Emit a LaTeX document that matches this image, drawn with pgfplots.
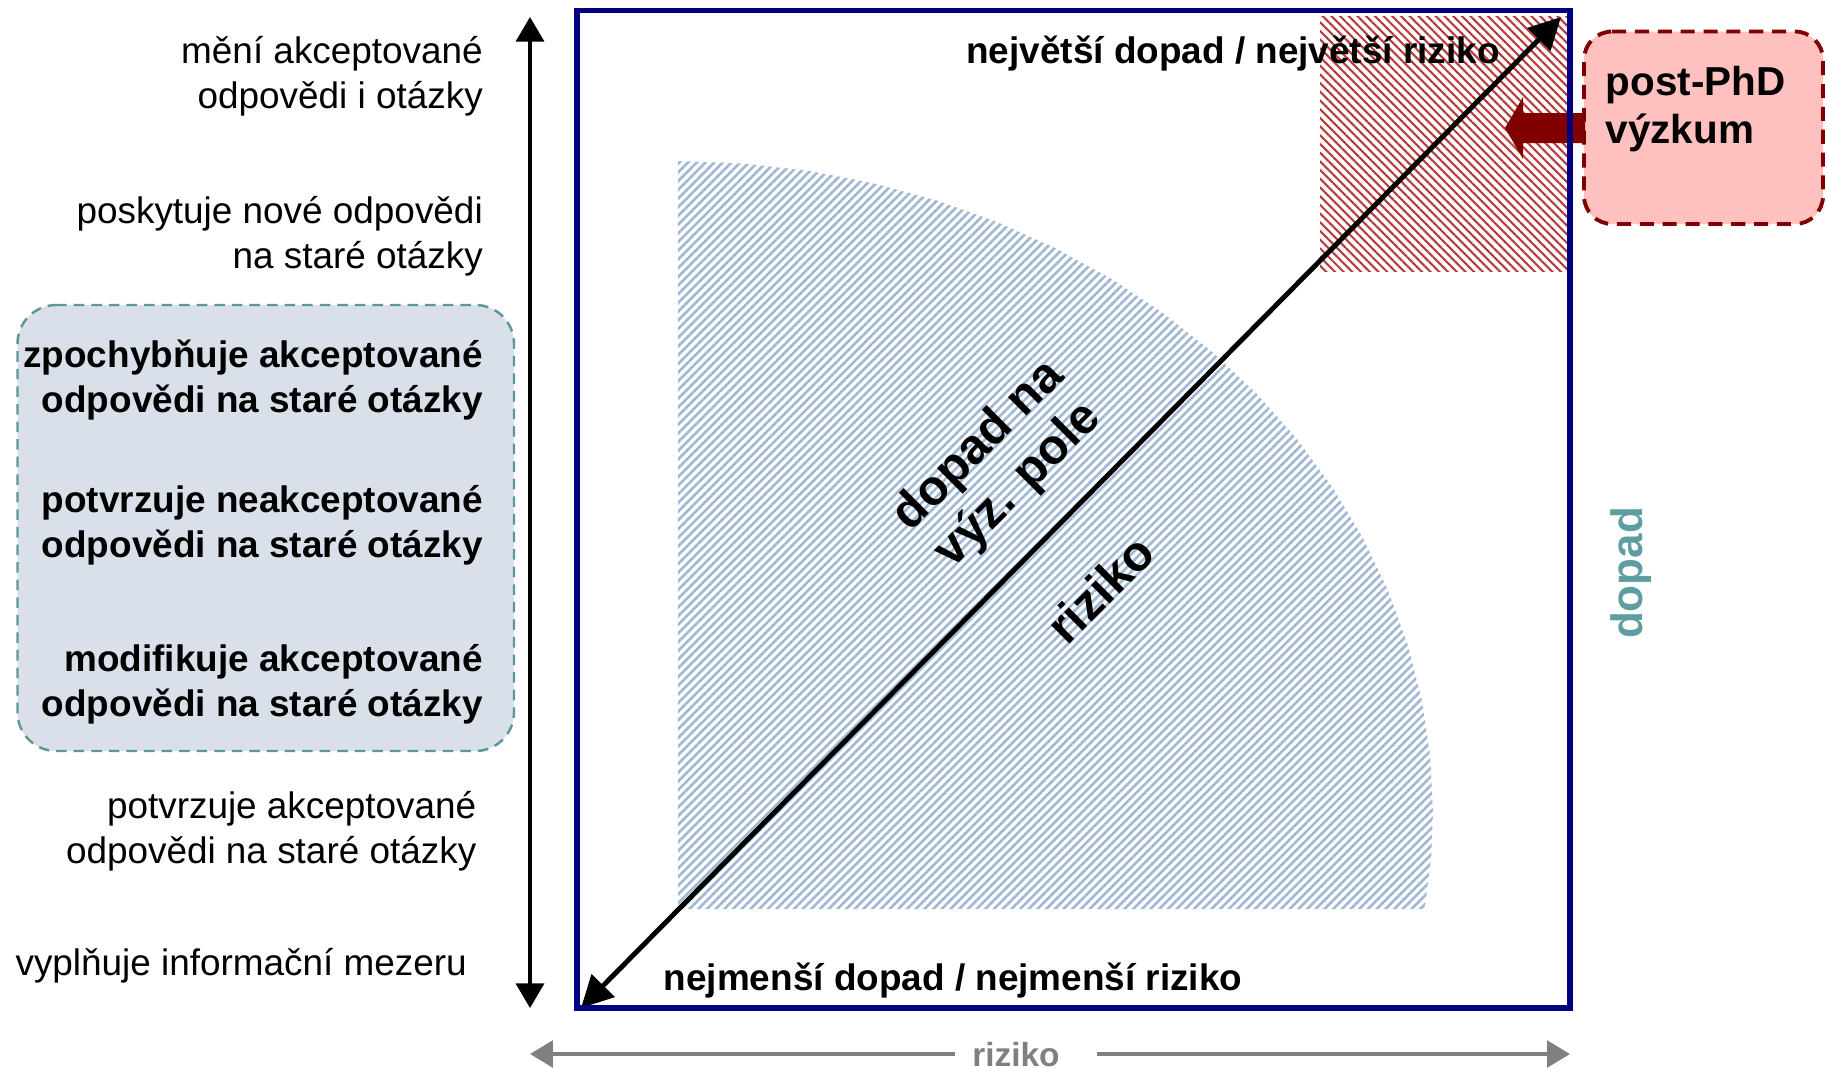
\documentclass[border=0pt]{standalone}
\usepackage{pgfplots}
\pgfplotsset{compat=1.18}
\usepackage{fontspec}
\setmainfont{Liberation Sans}
\usetikzlibrary{arrows.meta,patterns.meta}
\definecolor{navybox}{RGB}{0,0,128}
\definecolor{hatchblue}{RGB}{160,184,212}
\definecolor{hatchred}{RGB}{185,60,60}
\definecolor{darkred}{RGB}{128,0,0}
\definecolor{pinkfill}{RGB}{255,192,192}
\definecolor{slatefill}{RGB}{217,224,234}
\definecolor{tealbox}{RGB}{95,150,150}
\definecolor{tealc}{RGB}{95,158,160}
\definecolor{grayarrow}{RGB}{128,128,128}
\newcommand\nf{\fontsize{10.5}{12.8}\selectfont}
\begin{document}
\begin{tikzpicture}
\begin{axis}[width=18.27cm,height=10.68cm,scale only axis,
  xmin=0,xmax=1827,ymin=0,ymax=1068,y dir=reverse,
  axis lines=none,clip=false,no markers]
\addplot[draw=none] coordinates {(0,0) (1827,1068)};
% blue quarter area
\addplot[draw=none, pattern={Lines[angle=45,distance=1.75pt,line width=0.75pt]}, pattern color=hatchblue]
 coordinates {(678,909) (1424.5,909) (1431.2,857.4) (1433,812) (1430.1,755.3) (1421.5,699.0) (1407.3,643.5)
 (1387.5,589.3) (1362.3,536.9) (1331.9,486.5) (1296.5,438.6) (1256.4,393.5) (1211.9,351.7) (1163.3,313.3)
 (1111.1,278.7) (1055.5,248.2) (997.1,222.0) (936.2,200.3) (873.4,183.2) (809.1,170.9) (743.8,163.5) (678,161)} -- cycle;
% red square
\addplot[draw=none, pattern={Lines[angle=-45,distance=1.75pt,line width=0.6pt]}, pattern color=hatchred]
 coordinates {(1320,16) (1567,16) (1567,271) (1320,271)} -- cycle;
% left box
\addplot[fill=slatefill, draw=tealbox, dash pattern=on 3pt off 2pt, line width=0.7pt, rounded corners=11pt]
 coordinates {(17.5,305) (514,305) (514,751) (17.5,751)} -- cycle;
% pink box
\addplot[fill=pinkfill, draw=darkred, dash pattern=on 4pt off 2.5pt, line width=1.1pt, rounded corners=8pt]
 coordinates {(1584,31.5) (1823,31.5) (1823,224) (1584,224)} -- cycle;
% dark red arrow
\addplot[fill=darkred, draw=none]
 coordinates {(1585,113) (1523,113) (1523,97) (1505,128) (1523,159) (1523,143) (1585,143)} -- cycle;
% diagonal arrow
\addplot[black, line width=1.4pt, {Triangle[width=9pt,length=9pt]}-{Triangle[width=9pt,length=9pt]}]
 coordinates {(581,1008) (1561,17)};
% vertical arrow
\addplot[black, line width=0.9pt, {Triangle[width=8pt,length=7pt]}-{Triangle[width=8pt,length=7pt]}]
 coordinates {(530,17) (530,1008)};
% gray arrow
\addplot[grayarrow, line width=1.2pt, {Triangle[width=7.5pt,length=6.5pt]}-]
 coordinates {(530,1054) (955,1054)};
\addplot[grayarrow, line width=1.2pt, -{Triangle[width=7.5pt,length=6.5pt]}]
 coordinates {(1097,1054) (1570,1054)};
% navy box
\addplot[navybox, line width=1.7pt]
 coordinates {(577,10.5) (1570,10.5) (1570,1008) (577,1008)} -- cycle;
% texts
\node[text=grayarrow, font=\bfseries\fontsize{9.5}{11}\selectfont, inner sep=0] at (axis cs:1016,1055) {riziko};
\node[anchor=east, align=right, font=\nf, inner sep=0] at (axis cs:483.5,76) {mění akceptované\\odpovědi i otázky};
\node[anchor=east, align=right, font=\nf, inner sep=0] at (axis cs:483.5,236.5) {poskytuje nové odpovědi\\na staré otázky};
\node[anchor=east, align=right, font=\bfseries\nf, inner sep=0] at (axis cs:483.5,380) {zpochybňuje akceptované\\odpovědi na staré otázky};
\node[anchor=east, align=right, font=\bfseries\nf, inner sep=0] at (axis cs:483.5,525.5) {potvrzuje neakceptované\\odpovědi na staré otázky};
\node[anchor=east, align=right, font=\bfseries\nf, inner sep=0] at (axis cs:483.5,684.5) {modifikuje akceptované\\odpovědi na staré otázky};
\node[anchor=east, align=right, font=\nf, inner sep=0] at (axis cs:477,831) {potvrzuje akceptované\\odpovědi na staré otázky};
\node[anchor=east, align=right, font=\nf, inner sep=0] at (axis cs:467.5,965.5) {vyplňuje informační mezeru};
\node[font=\bfseries\nf, inner sep=0] at (axis cs:1233,54) {největší dopad / největší riziko};
\node[font=\bfseries\nf, inner sep=0] at (axis cs:953,980.5) {nejmenší dopad / nejmenší riziko};
\node[anchor=west, align=left, font=\bfseries\fontsize{11.5}{13.7}\selectfont, inner sep=0] at (axis cs:1605,109) {post-PhD\\výzkum};
\node[rotate=90, font=\bfseries\fontsize{12.5}{15}\selectfont, text=tealc, inner sep=0] at (axis cs:1631,573) {dopad};
\node[rotate=45, align=center, font=\bfseries\fontsize{14}{16}\selectfont, inner sep=0] at (axis cs:999,466) {dopad na\\výz. pole};
\node[rotate=45, font=\bfseries\fontsize{14}{16}\selectfont, inner sep=0] at (axis cs:1100,589) {riziko};
\end{axis}
\end{tikzpicture}
\end{document}
